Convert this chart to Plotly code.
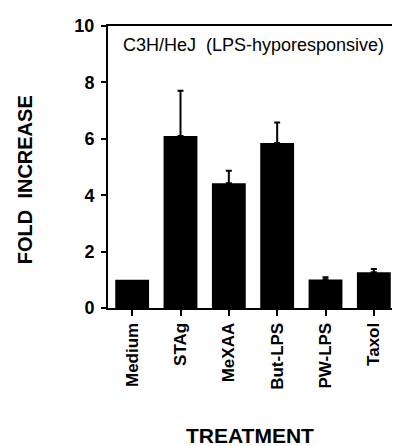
import plotly.graph_objects as go

categories = ["Medium", "STAg", "MeXAA", "But-LPS", "PW-LPS", "Taxol"]
fold_increase = [1.0, 6.1, 4.42, 5.85, 1.01, 1.27]
error_up = [0.0, 1.6, 0.45, 0.73, 0.08, 0.11]
y_ticks = [0, 2, 4, 6, 8, 10]

FONT = "Liberation Sans, Arial, Helvetica, sans-serif"

idx = list(range(len(categories)))
err_idx = [i for i in idx if error_up[i] > 0]

fig = go.Figure()
fig.add_trace(go.Bar(
    x=idx,
    y=fold_increase,
    width=0.7,
    marker=dict(color="black", line=dict(width=0)),
    showlegend=False,
    hoverinfo="skip",
))
fig.add_trace(go.Scatter(
    x=err_idx,
    y=[fold_increase[i] for i in err_idx],
    mode="markers",
    marker=dict(size=1, color="black", opacity=0),
    error_y=dict(type="data", array=[error_up[i] for i in err_idx],
                 arrayminus=[0] * len(err_idx), symmetric=False,
                 thickness=2, width=3, color="black"),
    showlegend=False,
))

fig.update_layout(
    width=400, height=446,
    margin=dict(l=100, r=8, t=10, b=146),
    paper_bgcolor="white", plot_bgcolor="white",
    font=dict(family=FONT, color="black"),
    xaxis=dict(
        range=[-0.5, 5.5],
        tickmode="array",
        tickvals=idx,
        ticktext=categories,
        tickangle=-90,
        ticks="outside", ticklen=6, tickwidth=2, tickcolor="black",
        showline=True, linewidth=2, linecolor="black", mirror=True,
        showgrid=False, zeroline=False,
        tickfont=dict(family=FONT, size=17, weight="bold", color="black"),
    ),
    yaxis=dict(
        range=[0, 10],
        tickmode="array",
        tickvals=y_ticks,
        ticktext=[str(v) for v in y_ticks],
        ticks="outside", ticklen=5, tickwidth=2, tickcolor="black",
        ticklabelstandoff=3,
        showline=True, linewidth=2, linecolor="black", mirror=True,
        showgrid=False, zeroline=False,
        tickfont=dict(family=FONT, size=18, weight="bold", color="black"),
    ),
    annotations=[
        dict(text="C3H/HeJ  (LPS-hyporesponsive)", xref="paper", yref="paper",
             x=0.503, y=0.931, xanchor="center", yanchor="middle", showarrow=False,
             font=dict(family=FONT, size=18, color="black")),
        dict(text="FOLD  INCREASE", xref="paper", yref="paper",
             x=-0.288, y=0.455, xanchor="center", yanchor="middle", showarrow=False,
             textangle=-90,
             font=dict(family=FONT, size=20, weight="bold", color="black")),
        dict(text="TREATMENT", xref="paper", yref="paper",
             x=0.49, y=-0.452, xanchor="center", yanchor="middle", showarrow=False,
             font=dict(family=FONT, size=21, weight="bold", color="black")),
    ],
)

fig.write_html("out.html")
